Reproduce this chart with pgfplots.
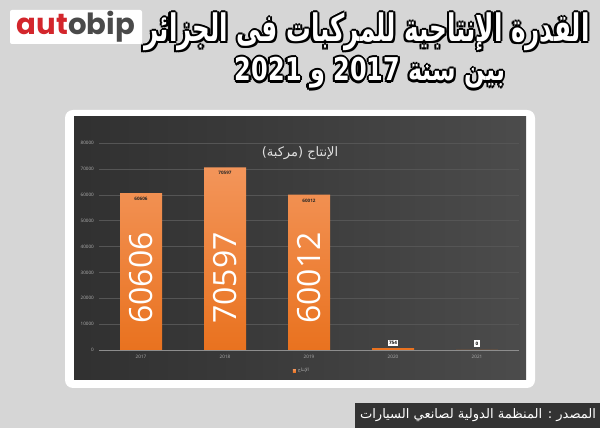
\documentclass[border=0pt]{standalone}
\usepackage{pgfplots}
\pgfplotsset{compat=1.18}
\usepackage{fontspec}
\setmainfont{Open Sans}
\newfontfamily\arabicfont[Script=Arabic]{DejaVu Sans}
\newfontfamily\logofont{Poppins}
\TeXXeTstate=1
\definecolor{bg}{HTML}{D6D6D6}
\definecolor{logored}{HTML}{D3262C}
\definecolor{logogray}{HTML}{4A4A4A}
\definecolor{barc}{HTML}{EE7B30}
\definecolor{bartop}{HTML}{F3955A}
\definecolor{barbot}{HTML}{E9721F}
\definecolor{gridc}{HTML}{555555}
\definecolor{tickc}{HTML}{B0B0B0}
\definecolor{srcbg}{HTML}{333333}
\definecolor{pA}{HTML}{252525}
\definecolor{pB}{HTML}{3A3A3A}
\definecolor{pC}{HTML}{505050}
\definecolor{pD}{HTML}{333333}
\pgfdeclarehorizontalshading{panel}{100bp}{color(0bp)=(pA); color(45bp)=(pB); color(82bp)=(pC); color(100bp)=(pD)}
\newcommand\titleA{\arabicfont\bfseries\beginR القدرة الإنتاجية للمركبات  فى الجزائر\endR}
\newcommand\titleB{\arabicfont\bfseries\beginR بين سنة \beginL 2017\endL{} و \beginL 2021\endL\endR}
\tikzset{vlab/.style={anchor=north, inner sep=0pt, yshift=-4pt, font=\fontsize{4.6}{5}\selectfont\bfseries, text=black!85},
  biglab/.style={rotate=90, inner sep=0pt, text=white, font=\fontsize{32}{32}\selectfont}}
\begin{document}
\begin{tikzpicture}
\begin{scope}[x=1pt,y=1pt]
\fill[bg] (0,0) rectangle (600,428);
\useasboundingbox (0,0) rectangle (600,428);
% logo
\fill[white, rounded corners=2pt] (10,384) rectangle (142,418);
\node[inner sep=0pt] at (76,401) {\resizebox{118pt}{!}{\logofont\bfseries\textcolor{logored}{aut}\textcolor{logogray}{obip}}};
% title with outline
\foreach \dx/\dy in {-2.2/0,2.2/0,0/-2.2,0/2.2,-1.6/-1.6,1.6/1.6,-1.6/1.6,1.6/-1.6}{
  \node[inner sep=0pt, text=black, xshift=\dx pt, yshift=\dy pt] at (367,396) {\resizebox*{445pt}{38pt}{\titleA}};
  \node[inner sep=0pt, text=black, xshift=\dx pt, yshift=\dy pt] at (370,355) {\resizebox*{270pt}{31pt}{\titleB}};
}
\node[inner sep=0pt, text=white] at (367,396) {\resizebox*{445pt}{38pt}{\titleA}};
\node[inner sep=0pt, text=white] at (370,355) {\resizebox*{270pt}{31pt}{\titleB}};
% panel
\fill[white, rounded corners=8pt] (65,40) rectangle (535,318);
\shade[shading=panel] (74,48) rectangle (526,311);
\end{scope}
\begin{axis}[
  at={(99pt,78pt)}, anchor=south west,
  scale only axis, width=420pt, height=207pt,
  xmin=-0.5, xmax=4.5, ymin=0, ymax=80000,
  ytick={0,10000,...,80000},
  xtick={0,1,2,3,4}, xticklabels={2017,2018,2019,2020,2021},
  axis line style={draw=none}, major tick length=0pt,
  ymajorgrids, grid style={color=gridc, line width=0.4pt},
  scaled y ticks=false,
  /pgf/number format/.cd, fixed, 1000 sep={}, assume math mode=true, /pgfplots/.cd,
  tick label style={font=\fontsize{4.6}{5}\selectfont, text=tickc},
  yticklabel style={inner sep=0pt, xshift=-5pt},
  xticklabel style={inner sep=0pt, yshift=-5pt},
  legend style={at={(axis description cs:0.483,-0.10)}, anchor=center, draw=none, fill=none, font=\fontsize{4.6}{5}\selectfont, text=tickc, inner sep=0pt},
  legend image code/.code={\fill[barc] (0pt,-1.6pt) rectangle (3.2pt,1.6pt);},
  clip=false,
]
\addplot[ybar, bar width=42pt, draw=none, top color=bartop, bottom color=barbot] coordinates {(0,60606) (1,70597) (2,60012) (3,754) (4,0)};
\addlegendentry{\arabicfont\beginR الإنتاج\endR}
\draw[color=tickc!80!black, line width=0.6pt] (axis cs:-0.5,0) -- (axis cs:4.5,0);
% value labels
\node[vlab] at (axis cs:0,60606) {60606};
\node[vlab] at (axis cs:1,70597) {70597};
\node[vlab] at (axis cs:2,60012) {60012};
\node[anchor=south, fill=white, inner sep=1.5pt, yshift=2pt, font=\fontsize{4.6}{5}\selectfont\bfseries, text=black] at (axis cs:3,754) {754};
\node[anchor=south, fill=white, inner sep=1.5pt, yshift=3pt, font=\fontsize{4.6}{5}\selectfont\bfseries, text=black] at (axis cs:4,0) {0};
% big rotated labels
\node[biglab] at (axis cs:0,27800) {60606};
\node[biglab] at (axis cs:1,27800) {70597};
\node[biglab] at (axis cs:2,27800) {60012};
\end{axis}
\begin{scope}[x=1pt,y=1pt]
% chart title
\node[inner sep=0pt, text=white!88!black, font=\arabicfont\fontsize{13}{15}\selectfont] at (300,275) {\beginR الإنتاج (مركبة)\endR};
% source
\fill[srcbg] (355,0) rectangle (600,25);
\node[inner sep=0pt, text=white] at (478,13) {\resizebox{236pt}{!}{\arabicfont\beginR المصدر : المنظمة الدولية لصانعي السيارات\endR}};
\end{scope}
\end{tikzpicture}
\end{document}
